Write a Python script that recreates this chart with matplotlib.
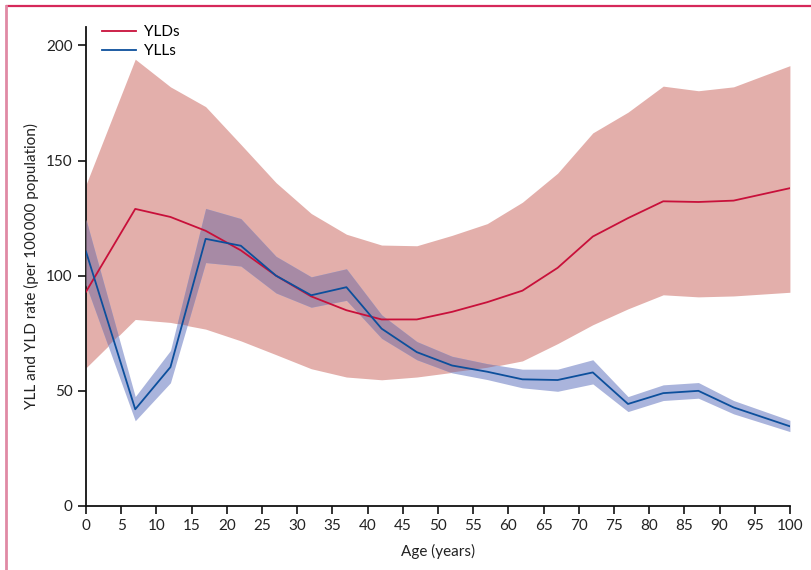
import matplotlib
matplotlib.use("Agg")
import matplotlib.pyplot as plt
from matplotlib.lines import Line2D

plt.rcParams['font.family'] = ['Lato', 'DejaVu Sans']

# age points (years)
age = [0, 7, 12, 17, 22, 27, 32, 37, 42, 47, 52, 57, 62, 67, 72, 77, 82, 87, 92, 100]

# YLD rate per 100 000 with uncertainty interval
yld = [93, 129, 125.5, 119.5, 111, 100, 91, 85, 81, 81, 84.3, 88.5, 93.5, 103.4, 117, 125, 132.3, 132, 132.6, 138]
yld_hi = [139.5, 194, 182, 173.4, 157, 140.4, 127, 118, 113.3, 113, 117.5, 122.6, 131.9, 144.5, 162, 171, 182.3, 180.3, 182, 191.2]
yld_lo = [60, 81, 79.7, 76.8, 71.7, 65.7, 59.6, 56, 54.8, 56, 58, 60, 63, 70.5, 78.7, 85.6, 91.7, 90.8, 91.2, 92.8]

# YLL rate per 100 000 with uncertainty interval
yll = [110.5, 42, 60.3, 116, 113, 100, 91.5, 95, 77, 66.8, 61, 58.3, 55, 54.7, 58, 44.3, 49, 50, 42.8, 34.6]
yll_hi = [124.5, 47.5, 67.5, 129.2, 124.8, 108.4, 99.5, 103, 83, 71.4, 65, 61.8, 59.4, 59.4, 63.5, 47.5, 52.6, 53.6, 45.8, 37.2]
yll_lo = [96, 37, 53.5, 105.7, 104.2, 92.5, 86.3, 89.3, 72.8, 63.5, 57.8, 54.9, 51.3, 49.8, 53, 41, 45.8, 46.8, 40, 32.3]

red = '#c8103a'
blue = '#0c4f9c'
pink = '#e3afab'
lightblue = '#aab4dc'
purple = '#a78aa5'

fig = plt.figure(figsize=(8.11, 5.70), dpi=100)
ax = fig.add_axes([0.106, 0.1123, 0.868, 0.8404])

# bands
yld_band = ax.fill_between(age, yld_lo, yld_hi, color=pink, lw=0, zorder=1)
ax.fill_between(age, yll_lo, yll_hi, color=lightblue, lw=0, zorder=2)
overlap = ax.fill_between(age, yll_lo, yll_hi, color=purple, lw=0, zorder=3)
overlap.set_clip_path(yld_band.get_paths()[0], transform=ax.transData)

# lines
ax.plot(age, yld, color=red, lw=1.3, zorder=4)
ax.plot(age, yll, color=blue, lw=1.3, zorder=5)

ax.set_xlim(0, 100)
ax.set_ylim(0, 208)
ax.set_xticks(range(0, 101, 5))
ax.set_yticks([0, 50, 100, 150, 200])
ax.spines['top'].set_visible(False)
ax.spines['right'].set_visible(False)
for s in ['left', 'bottom']:
    ax.spines[s].set_linewidth(1.3)
    ax.spines[s].set_color('#111111')
ax.spines['bottom'].set_bounds(0, 100)
ax.tick_params(direction='out', length=6, width=1.2, labelsize=11, color='#111111', labelcolor='#222222')
ax.set_xlabel('Age (years)', fontsize=11, color='#222222', labelpad=8)
ax.set_ylabel('YLL and YLD rate (per 100\u2009000 population)', fontsize=11, color='#222222', labelpad=5)

handles = [Line2D([], [], color=red, lw=1.3), Line2D([], [], color=blue, lw=1.3)]
ax.legend(handles, ['YLDs', 'YLLs'], loc='upper left', bbox_to_anchor=(0.008, 1.026),
          frameon=False, fontsize=11, handlelength=2.2, handletextpad=0.5,
          labelspacing=0.32, borderaxespad=0.3)

# page frame lines
fig.add_artist(Line2D([6.5 / 811, 1], [1 - 6 / 570, 1 - 6 / 570], color='#d6285a', lw=1.6, transform=fig.transFigure))
fig.add_artist(Line2D([6 / 811, 6 / 811], [0, 1 - 6 / 570], color='#e08aa5', lw=2.0, transform=fig.transFigure))

fig.savefig('out.png', dpi=100)
